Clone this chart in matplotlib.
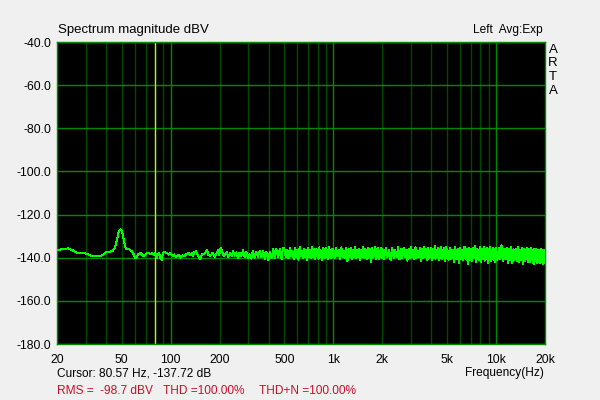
#!/usr/bin/env python3
"""ARTA-style spectrum magnitude plot (dBV vs log frequency)."""
import matplotlib
matplotlib.use("Agg")
import matplotlib.pyplot as plt

# --- trace: frequency (Hz) and magnitude (dBV) ---
FREQ_LOW = [20, 21, 22, 23.5, 25, 26, 27, 28.5, 30, 31.5, 33, 35, 37, 38.5, 40, 42, 44,
            45.5, 46.5, 47.5, 48.5, 49.3, 50.2, 51, 52, 53, 54.5, 56, 57.5, 59, 60.5, 62,
            63.5, 65, 66.5, 68, 69.5, 71, 73, 75, 77, 79, 80.5, 82, 83.5, 85, 86.5, 88,
            89.5, 91, 93, 95, 97, 99, 101, 103, 105, 107]
DB_LOW = [-136.5, -136.2, -135.8, -135.7, -136.6, -137.3, -138.0, -138.0, -138.0, -138.6,
          -139.3, -139.4, -139.3, -138.5, -137.3, -137.2, -136.8, -135.2, -132.5, -129.0,
          -127.2, -126.9, -128.0, -130.0, -133.5, -135.8, -135.9, -136.2, -137.0, -138.2,
          -140.3, -139.5, -138.2, -137.7, -138.5, -139.3, -138.6, -138.0, -137.7, -138.2,
          -137.9, -138.6, -137.7, -140.2, -138.4, -138.0, -140.5, -141.0, -138.2, -137.3,
          -137.5, -138.0, -138.6, -138.0, -138.3, -139.2, -138.5, -139.6]

FREQ_MID = [110, 112, 115, 118, 121, 125, 128, 132, 135, 137, 140, 143, 146, 149, 152,
            156, 160, 164, 167, 171, 175, 181, 187, 191, 195, 199, 203, 207, 212, 216,
            221, 226, 232, 237, 242, 248, 253, 259, 265, 272, 278, 285, 292, 299, 306,
            313, 320, 328, 336, 344, 353, 361, 370, 379, 388, 398, 407, 417, 427, 436,
            446, 457, 468, 480, 490]
DB_MID = [-139.2, -138.6, -140.0, -138.9, -139.3, -138.3, -137.7, -138.8, -137.9, -139.1,
          -137.4, -137.0, -138.6, -139.6, -140.7, -138.2, -138.5, -137.6, -136.5, -138.9,
          -139.0, -137.8, -139.6, -138.2, -136.5, -138.7, -135.4, -137.2, -139.3, -138.3,
          -137.3, -139.6, -137.8, -139.3, -137.0, -139.0, -137.5, -140.1, -137.6, -139.4,
          -136.6, -139.6, -137.2, -140.3, -138.5, -140.4, -136.9, -140.0, -137.3, -139.5,
          -136.8, -139.6, -137.0, -140.4, -137.3, -141.2, -137.2, -140.1, -136.1, -140.3,
          -135.7, -139.9, -136.1, -140.6, -135.4]

FREQ_HIGH = [
    500, 510, 520, 530, 540, 550, 560, 570, 580, 590,
    600, 610, 620, 630, 640, 650, 660, 670, 680, 690,
    700, 710, 720, 730, 740, 750, 760, 770, 780, 790,
    800, 810, 820, 830, 840, 850, 860, 870, 880, 890,
    900, 910, 920, 930, 940, 950, 960, 970, 980, 990, 1000,
    1020, 1040, 1060, 1080, 1100, 1120, 1140, 1160, 1180, 1200,
    1220, 1240, 1260, 1280, 1300, 1320, 1340, 1360, 1380, 1400,
    1420, 1440, 1460, 1480, 1500, 1520, 1540, 1560, 1580, 1600,
    1620, 1640, 1660, 1680, 1700, 1720, 1740, 1760, 1780, 1800,
    1820, 1840, 1860, 1880, 1900, 1920, 1940, 1960, 1980, 2000,
    2050, 2100, 2150, 2200, 2250, 2300, 2350, 2400, 2450, 2500,
    2550, 2600, 2650, 2700, 2750, 2800, 2850, 2900, 2950, 3000,
    3050, 3100, 3150, 3200, 3250, 3300, 3350, 3400, 3450, 3500,
    3550, 3600, 3650, 3700, 3750, 3800, 3850, 3900, 3950, 4000,
    4050, 4100, 4150, 4200, 4250, 4300, 4350, 4400, 4450, 4500,
    4550, 4600, 4650, 4700, 4750, 4800, 4850, 4900, 4950, 5000,
    5100, 5200, 5300, 5400, 5500, 5600, 5700, 5800, 5900, 6000,
    6100, 6200, 6300, 6400, 6500, 6600, 6700, 6800, 6900, 7000,
    7100, 7200, 7300, 7400, 7500, 7600, 7700, 7800, 7900, 8000,
    8100, 8200, 8300, 8400, 8500, 8600, 8700, 8800, 8900, 9000,
    9100, 9200, 9300, 9400, 9500, 9600, 9700, 9800, 9900, 10000,
    10200, 10400, 10600, 10800, 11000, 11200, 11400, 11600, 11800, 12000,
    12200, 12400, 12600, 12800, 13000, 13200, 13400, 13600, 13800, 14000,
    14200, 14400, 14600, 14800, 15000, 15200, 15400, 15600, 15800, 16000,
    16200, 16400, 16600, 16800, 17000, 17200, 17400, 17600, 17800, 18000,
    18200, 18400, 18600, 18800, 19000, 19200, 19400, 19600, 19800, 20000]
DB_HIGH = [
    -135.9, -139.6, -136.4, -140.2, -135.3, -139.1, -136.8, -140.5, -135.6, -139.8,
    -136.2, -140.9, -135.1, -139.4, -137.0, -140.3, -135.8, -139.7, -136.3, -141.2,
    -135.5, -139.9, -136.6, -140.1, -134.9, -139.5, -136.1, -140.7, -135.7, -139.3,
    -136.4, -140.4, -135.2, -139.8, -136.9, -141.0, -135.6, -139.6, -136.0, -140.2,
    -135.4, -139.7, -136.5, -140.6, -135.0, -139.9, -136.2, -140.3, -135.8, -139.5, -136.1,
    -140.0, -135.6, -139.4, -136.3, -140.8, -135.2, -139.7, -136.7, -140.2, -135.5,
    -141.6, -136.0, -139.6, -135.4, -140.4, -136.5, -139.8, -135.1, -140.1, -136.2,
    -139.5, -135.7, -140.9, -136.4, -139.9, -134.8, -140.3, -135.9, -139.6, -136.6,
    -140.7, -135.3, -139.7, -136.0, -141.9, -135.6, -140.0, -136.3, -139.4, -135.0,
    -140.5, -136.1, -139.8, -135.5, -140.6, -136.8, -139.9, -135.4, -140.2, -135.9,
    -140.4, -135.6, -139.7, -136.2, -141.1, -135.3, -140.0, -136.5, -139.6, -135.0,
    -140.8, -136.0, -140.2, -135.5, -139.5, -136.4, -141.4, -135.7, -140.1, -134.9,
    -139.8, -136.3, -140.6, -135.2, -140.0, -136.7, -139.7, -135.6, -141.7, -135.9,
    -140.3, -135.1, -139.9, -136.1, -140.9, -135.4, -140.4, -136.6, -139.6, -135.3,
    -141.2, -135.8, -140.0, -134.7, -140.5, -136.2, -139.8, -135.5, -141.0, -136.0,
    -140.2, -135.2, -140.7, -136.4, -139.9, -135.6, -141.5, -135.0, -140.3, -136.1,
    -141.0, -135.5, -140.4, -136.3, -141.8, -135.1, -140.6, -135.9, -142.4, -135.4,
    -140.8, -136.2, -141.3, -134.8, -140.5, -135.7, -143.1, -135.3, -140.9, -136.0,
    -141.5, -135.6, -140.3, -134.5, -141.9, -135.9, -140.7, -136.4, -141.2, -135.2,
    -142.0, -135.8, -140.6, -135.0, -141.4, -136.1, -140.4, -135.5, -142.7, -135.7,
    -140.9, -134.9, -141.6, -136.3, -140.5, -135.4, -141.1, -135.8, -142.2, -135.3,
    -141.3, -135.6, -140.8, -134.2, -141.7, -136.0, -140.6, -135.4, -142.3, -135.9,
    -141.0, -135.2, -142.6, -136.1, -140.9, -135.7, -141.5, -134.8, -142.0, -136.3,
    -141.2, -135.5, -142.8, -135.9, -141.4, -136.2, -140.7, -135.3, -142.1, -136.0,
    -141.8, -135.6, -141.1, -136.4, -143.0, -135.8, -141.6, -136.1, -142.4, -136.5,
    -141.9, -136.2, -142.7, -135.9, -142.2, -136.6, -142.9, -136.3, -142.5, -136.8]

X_TICKS = [20, 50, 100, 200, 500, 1000, 2000, 5000, 10000, 20000]
X_LABELS = ["20", "50", "100", "200", "500", "1k", "2k", "5k", "10k", "20k"]
Y_TICKS = [-40, -60, -80, -100, -120, -140, -160, -180]
MAJOR_X = [100, 1000, 10000]
MINOR_X = [30, 40, 50, 60, 70, 80, 90, 200, 300, 400, 500, 600, 700, 800, 900,
           2000, 3000, 4000, 5000, 6000, 7000, 8000, 9000]
CURSOR_HZ = 80.57

BG = "#f0f0f0"
FONT = ["Liberation Sans", "DejaVu Sans"]


def main():
    plt.rcParams["font.family"] = FONT
    fig = plt.figure(figsize=(6, 4), dpi=100, facecolor=BG)
    ax = fig.add_axes([57 / 600, 1 - 344 / 400, 488 / 600, 302 / 400])
    ax.set_facecolor("black")
    ax.set_xscale("log")
    ax.set_xlim(20, 20000)
    ax.set_ylim(-180, -40)

    for f in MINOR_X:
        ax.axvline(f, color="#004a00", lw=1, zorder=1)
    for f in MAJOR_X:
        ax.axvline(f, color="#008a00", lw=1, zorder=1)
    for y in Y_TICKS:
        ax.axhline(y, color="#008a00", lw=1, zorder=1)
    ax.axvline(CURSOR_HZ, color="#e0e000", lw=1, zorder=2)

    freq = FREQ_LOW + FREQ_MID + FREQ_HIGH
    db = DB_LOW + DB_MID + DB_HIGH
    ax.plot(freq, db, color="#00ff00", lw=0.7, antialiased=False, zorder=3)

    for s in ax.spines.values():
        s.set_color("#008a00")
        s.set_linewidth(1)

    ax.set_xticks(X_TICKS)
    ax.set_xticklabels(X_LABELS)
    ax.xaxis.set_minor_locator(matplotlib.ticker.NullLocator())
    ax.set_yticks(Y_TICKS)
    ax.set_yticklabels([f"{v:.1f}" for v in Y_TICKS])
    ax.tick_params(length=0, labelsize=8.8, colors="black")
    ax.tick_params(axis="x", pad=7)
    ax.tick_params(axis="y", pad=4)

    fs = 8.6
    red = "#c8102e"
    fig.text(58 / 600, 1 - 30 / 400, "Spectrum magnitude dBV", fontsize=9.5, va="center")
    fig.text(543 / 600, 1 - 30 / 400, "Left  Avg:Exp", fontsize=fs, va="center", ha="right")
    for i, ch in enumerate("ARTA"):
        fig.text(553 / 600, 1 - (50 + i * 13.5) / 400, ch, fontsize=9.5, va="center", ha="center")
    fig.text(57 / 600, 1 - 373 / 400, "Cursor: 80.57 Hz, -137.72 dB", fontsize=fs, va="center")
    fig.text(544 / 600, 1 - 373 / 400, "Frequency(Hz)", fontsize=fs, va="center", ha="right")
    fig.text(57 / 600, 1 - 391 / 400, "RMS =  -98.7 dBV", fontsize=fs, va="center", color=red)
    fig.text(163 / 600, 1 - 391 / 400, "THD =100.00%", fontsize=fs, va="center", color=red)
    fig.text(259 / 600, 1 - 391 / 400, "THD+N =100.00%", fontsize=fs, va="center", color=red)

    fig.savefig("out.png", dpi=100, facecolor=BG)


if __name__ == "__main__":
    main()
